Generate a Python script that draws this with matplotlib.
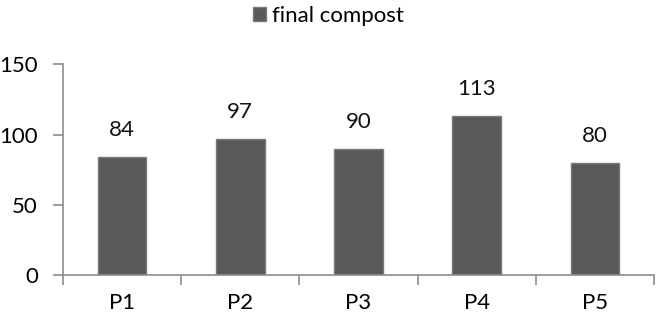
import matplotlib.pyplot as plt
from matplotlib.patches import Patch

# data
categories = ["P1", "P2", "P3", "P4", "P5"]
values = [84, 97, 90, 113, 80]
series_name = "final compost"

plt.rcParams["font.family"] = ["Lato", "DejaVu Sans"]

fig = plt.figure(figsize=(6.56, 3.19), dpi=100)
ax = fig.add_axes([0.096, 0.138, 0.901, 0.66])

x = range(len(categories))
bars = ax.bar(x, values, width=0.41, color="#595959", edgecolor="#7a7a7a", linewidth=1.0)

for b, v in zip(bars, values):
    ax.annotate(str(v), (b.get_x() + b.get_width() / 2, v), xytext=(0, 19.5),
                textcoords="offset points", ha="center", va="center", fontsize=16, color="#111111")

ax.set_ylim(0, 150)
ax.set_yticks([0, 50, 100, 150])
ax.set_xlim(-0.5, len(categories) - 0.5)

# category labels between boundary ticks
ax.set_xticks([i - 0.5 for i in range(len(categories) + 1)])
ax.set_xticklabels([])
ax.set_xticks(list(x), minor=True)
ax.set_xticklabels(categories, minor=True)
ax.tick_params(axis="x", which="minor", length=0, pad=13, labelsize=16)
ax.tick_params(axis="x", which="major", length=7, width=1.2, color="#8c8c8c", direction="out")
ax.tick_params(axis="y", length=7, width=1.2, color="#8c8c8c", labelsize=16, pad=11)

for side in ["top", "right"]:
    ax.spines[side].set_visible(False)
for side in ["left", "bottom"]:
    ax.spines[side].set_color("#8c8c8c")
    ax.spines[side].set_linewidth(1.2)

handle = Patch(facecolor="#595959", edgecolor="#7a7a7a")
fig.legend([handle], [series_name], loc="upper center", bbox_to_anchor=(0.5, 1.045),
           frameon=False, fontsize=16, handlelength=0.6, handleheight=0.6, handletextpad=0.25)

fig.savefig("out.png", dpi=100)
